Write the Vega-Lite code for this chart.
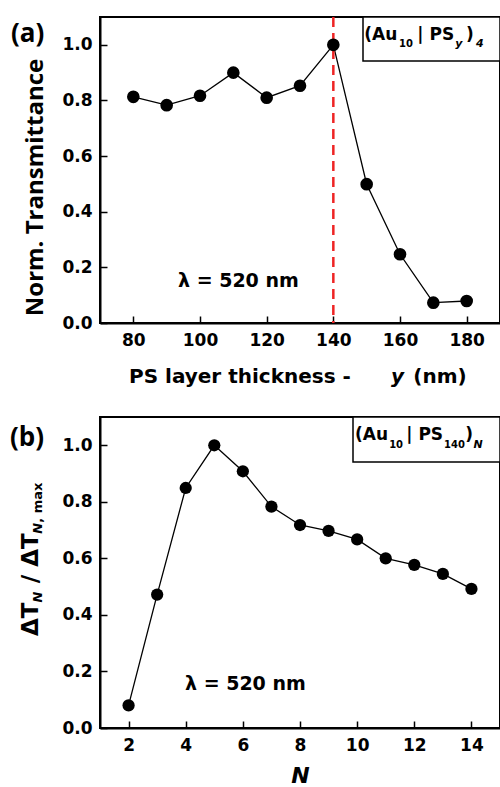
{
  "$schema": "https://vega.github.io/schema/vega-lite/v6.json",
  "padding": {"left": 9, "top": 14, "right": 0, "bottom": 0},
  "bounds": "flush",
  "spacing": 94,
  "config": {
    "view": {"stroke": "black", "strokeWidth": 2},
    "axis": {"grid": false, "domainColor": "black", "domainWidth": 2, "tickColor": "black", "tickWidth": 1.5, "labelFont": "DejaVu Sans", "labelFontWeight": "bold", "labelFontSize": 17, "labelColor": "black", "titleColor": "black", "labelOverlap": false, "labelFlush": false},
    "text": {"font": "DejaVu Sans", "fontWeight": "bold", "color": "black"}
  },
  "datasets": {
    "a": [
      {"thickness": 80, "T": 0.813}, {"thickness": 90, "T": 0.783}, {"thickness": 100, "T": 0.817},
      {"thickness": 110, "T": 0.90}, {"thickness": 120, "T": 0.81}, {"thickness": 130, "T": 0.853},
      {"thickness": 140, "T": 1.0}, {"thickness": 150, "T": 0.499}, {"thickness": 160, "T": 0.247},
      {"thickness": 170, "T": 0.073}, {"thickness": 180, "T": 0.079}
    ],
    "b": [
      {"N": 2, "dT": 0.08}, {"N": 3, "dT": 0.472}, {"N": 4, "dT": 0.849}, {"N": 5, "dT": 1.0},
      {"N": 6, "dT": 0.908}, {"N": 7, "dT": 0.783}, {"N": 8, "dT": 0.718}, {"N": 9, "dT": 0.697},
      {"N": 10, "dT": 0.667}, {"N": 11, "dT": 0.60}, {"N": 12, "dT": 0.577}, {"N": 13, "dT": 0.545},
      {"N": 14, "dT": 0.492}
    ]
  },
  "vconcat": [
    {
      "width": 400, "height": 306,
      "layer": [
        {
          "data": {"name": "a"},
          "mark": {"type": "line", "color": "black", "strokeWidth": 1.3},
          "encoding": {
            "x": {"field": "thickness", "type": "quantitative",
              "scale": {"domain": [70, 190], "nice": false, "zero": false},
              "axis": {"title": null, "values": [80, 90, 100, 110, 120, 130, 140, 150, 160, 170, 180],
                "labelExpr": "datum.value % 20 == 0 ? datum.label : ''",
                "tickSize": {"condition": {"test": "datum.value % 20 == 0", "value": -7}, "value": -4},
                "labelPadding": 16}},
            "y": {"field": "T", "type": "quantitative",
              "scale": {"domain": [0, 1.1], "nice": false, "zero": false},
              "axis": {"title": "Norm. Transmittance", "titleFont": "Open Sans", "titleFontWeight": "bold", "titleFontSize": 24, "titlePadding": 14, "titleY": 170,
                "values": [0, 0.1, 0.2, 0.3, 0.4, 0.5, 0.6, 0.7, 0.8, 0.9, 1.0], "format": ".1f",
                "labelExpr": "round(datum.value*10) % 2 == 0 ? datum.label : ''",
                "tickSize": {"condition": {"test": "round(datum.value*10) % 2 == 0", "value": -7}, "value": -4},
                "labelPadding": 15}}
          }
        },
        {
          "data": {"values": [{}]},
          "mark": {"type": "rule", "color": "#ee2424", "strokeDash": [10, 6], "strokeWidth": 2.5},
          "encoding": {"x": {"datum": 140, "type": "quantitative"}}
        },
        {
          "data": {"name": "a"},
          "mark": {"type": "point", "filled": true, "size": 160, "color": "black", "opacity": 1},
          "encoding": {
            "x": {"field": "thickness", "type": "quantitative"},
            "y": {"field": "T", "type": "quantitative"}
          }
        },
        {
          "data": {"values": [{}]},
          "mark": {"type": "rect", "fill": "white", "stroke": "black", "strokeWidth": 1.5},
          "encoding": {
            "x": {"datum": 148.9, "type": "quantitative"}, "x2": {"datum": 190},
            "y": {"datum": 0.942, "type": "quantitative"}, "y2": {"datum": 1.1}
          }
        },
        {"data": {"values": [{}]}, "mark": {"type": "text", "text": "(Au", "fontSize": 17, "align": "left", "baseline": "alphabetic"},
          "encoding": {"x": {"datum": 149.3, "type": "quantitative"}, "y": {"datum": 1.019, "type": "quantitative"}}},
        {"data": {"values": [{}]}, "mark": {"type": "text", "text": "10", "fontSize": 10, "align": "left", "baseline": "alphabetic"},
          "encoding": {"x": {"datum": 159.7, "type": "quantitative"}, "y": {"datum": 0.992, "type": "quantitative"}}},
        {"data": {"values": [{}]}, "mark": {"type": "text", "text": "| PS", "fontSize": 17, "align": "left", "baseline": "alphabetic"},
          "encoding": {"x": {"datum": 165.2, "type": "quantitative"}, "y": {"datum": 1.019, "type": "quantitative"}}},
        {"data": {"values": [{}]}, "mark": {"type": "text", "text": "y", "fontSize": 11, "fontStyle": "italic", "align": "left", "baseline": "alphabetic"},
          "encoding": {"x": {"datum": 176.6, "type": "quantitative"}, "y": {"datum": 0.992, "type": "quantitative"}}},
        {"data": {"values": [{}]}, "mark": {"type": "text", "text": ")", "fontSize": 17, "align": "left", "baseline": "alphabetic"},
          "encoding": {"x": {"datum": 179.8, "type": "quantitative"}, "y": {"datum": 1.019, "type": "quantitative"}}},
        {"data": {"values": [{}]}, "mark": {"type": "text", "text": "4", "fontSize": 11, "fontStyle": "italic", "align": "left", "baseline": "alphabetic"},
          "encoding": {"x": {"datum": 182.8, "type": "quantitative"}, "y": {"datum": 0.992, "type": "quantitative"}}},
        {"data": {"values": [{}]}, "mark": {"type": "text", "text": "λ = 520 nm", "fontSize": 19, "align": "left", "baseline": "alphabetic"},
          "encoding": {"x": {"datum": 93.4, "type": "quantitative"}, "y": {"datum": 0.129, "type": "quantitative"}}},
        {"data": {"values": [{}]}, "mark": {"type": "text", "text": "PS layer thickness -", "fontSize": 20, "align": "left", "baseline": "alphabetic"},
          "encoding": {"x": {"datum": 78.7, "type": "quantitative"}, "y": {"datum": -0.216, "type": "quantitative"}}},
        {"data": {"values": [{}]}, "mark": {"type": "text", "text": "y", "fontSize": 20, "fontStyle": "italic", "align": "left", "baseline": "alphabetic"},
          "encoding": {"x": {"datum": 157.3, "type": "quantitative"}, "y": {"datum": -0.216, "type": "quantitative"}}},
        {"data": {"values": [{}]}, "mark": {"type": "text", "text": "(nm)", "fontSize": 20, "align": "left", "baseline": "alphabetic"},
          "encoding": {"x": {"datum": 164.0, "type": "quantitative"}, "y": {"datum": -0.216, "type": "quantitative"}}},
        {"data": {"values": [{}]}, "mark": {"type": "text", "text": "(a)", "font": "Open Sans", "fontSize": 26, "align": "left", "baseline": "middle", "dx": -89},
          "encoding": {"x": {"datum": 70, "type": "quantitative"}, "y": {"datum": 1.04, "type": "quantitative"}}}
      ]
    },
    {
      "width": 400, "height": 311,
      "layer": [
        {
          "data": {"name": "b"},
          "mark": {"type": "line", "color": "black", "strokeWidth": 1.3},
          "encoding": {
            "x": {"field": "N", "type": "quantitative",
              "scale": {"domain": [1, 15], "nice": false, "zero": false},
              "axis": {"title": "N", "titleFont": "DejaVu Sans", "titleFontWeight": "bold", "titleFontStyle": "italic", "titleFontSize": 22, "titlePadding": 12,
                "values": [2, 3, 4, 5, 6, 7, 8, 9, 10, 11, 12, 13, 14],
                "labelExpr": "datum.value % 2 == 0 ? datum.label : ''",
                "tickSize": {"condition": {"test": "datum.value % 2 == 0", "value": -7}, "value": -4},
                "labelPadding": 16}},
            "y": {"field": "dT", "type": "quantitative",
              "scale": {"domain": [0, 1.1], "nice": false, "zero": false},
              "axis": {"title": null,
                "values": [0, 0.1, 0.2, 0.3, 0.4, 0.5, 0.6, 0.7, 0.8, 0.9, 1.0], "format": ".1f",
                "labelExpr": "round(datum.value*10) % 2 == 0 ? datum.label : ''",
                "tickSize": {"condition": {"test": "round(datum.value*10) % 2 == 0", "value": -7}, "value": -4},
                "labelPadding": 15}}
          }
        },
        {
          "data": {"name": "b"},
          "mark": {"type": "point", "filled": true, "size": 150, "color": "black", "opacity": 1},
          "encoding": {
            "x": {"field": "N", "type": "quantitative"},
            "y": {"field": "dT", "type": "quantitative"}
          }
        },
        {
          "data": {"values": [{}]},
          "mark": {"type": "rect", "fill": "white", "stroke": "black", "strokeWidth": 1.5},
          "encoding": {
            "x": {"datum": 9.855, "type": "quantitative"}, "x2": {"datum": 15},
            "y": {"datum": 0.941, "type": "quantitative"}, "y2": {"datum": 1.1}
          }
        },
        {"data": {"values": [{}]}, "mark": {"type": "text", "text": "(Au", "fontSize": 17, "align": "left", "baseline": "alphabetic"},
          "encoding": {"x": {"datum": 9.925, "type": "quantitative"}, "y": {"datum": 1.02, "type": "quantitative"}}},
        {"data": {"values": [{}]}, "mark": {"type": "text", "text": "10", "fontSize": 10, "align": "left", "baseline": "alphabetic"},
          "encoding": {"x": {"datum": 11.12, "type": "quantitative"}, "y": {"datum": 0.992, "type": "quantitative"}}},
        {"data": {"values": [{}]}, "mark": {"type": "text", "text": "| PS", "fontSize": 17, "align": "left", "baseline": "alphabetic"},
          "encoding": {"x": {"datum": 11.72, "type": "quantitative"}, "y": {"datum": 1.02, "type": "quantitative"}}},
        {"data": {"values": [{}]}, "mark": {"type": "text", "text": "140", "fontSize": 10, "align": "left", "baseline": "alphabetic"},
          "encoding": {"x": {"datum": 13.04, "type": "quantitative"}, "y": {"datum": 0.992, "type": "quantitative"}}},
        {"data": {"values": [{}]}, "mark": {"type": "text", "text": ")", "fontSize": 17, "align": "left", "baseline": "alphabetic"},
          "encoding": {"x": {"datum": 13.78, "type": "quantitative"}, "y": {"datum": 1.02, "type": "quantitative"}}},
        {"data": {"values": [{}]}, "mark": {"type": "text", "text": "N", "fontSize": 11, "fontStyle": "italic", "align": "left", "baseline": "alphabetic"},
          "encoding": {"x": {"datum": 14.07, "type": "quantitative"}, "y": {"datum": 0.992, "type": "quantitative"}}},
        {"data": {"values": [{}]}, "mark": {"type": "text", "text": "λ = 520 nm", "fontSize": 19, "align": "left", "baseline": "alphabetic"},
          "encoding": {"x": {"datum": 3.975, "type": "quantitative"}, "y": {"datum": 0.134, "type": "quantitative"}}},
        {"data": {"values": [{}]}, "mark": {"type": "text", "text": "ΔT", "fontSize": 23, "angle": 270, "align": "left", "baseline": "alphabetic", "dy": -62},
          "encoding": {"x": {"datum": 1, "type": "quantitative"}, "y": {"datum": 0.325, "type": "quantitative"}}},
        {"data": {"values": [{}]}, "mark": {"type": "text", "text": "N", "fontSize": 13, "fontStyle": "italic", "angle": 270, "align": "left", "baseline": "alphabetic", "dy": -58},
          "encoding": {"x": {"datum": 1, "type": "quantitative"}, "y": {"datum": 0.444, "type": "quantitative"}}},
        {"data": {"values": [{}]}, "mark": {"type": "text", "text": "/ ΔT", "fontSize": 23, "angle": 270, "align": "left", "baseline": "alphabetic", "dy": -62},
          "encoding": {"x": {"datum": 1, "type": "quantitative"}, "y": {"datum": 0.512, "type": "quantitative"}}},
        {"data": {"values": [{}]}, "mark": {"type": "text", "text": "N", "fontSize": 13, "fontStyle": "italic", "angle": 270, "align": "left", "baseline": "alphabetic", "dy": -58},
          "encoding": {"x": {"datum": 1, "type": "quantitative"}, "y": {"datum": 0.687, "type": "quantitative"}}},
        {"data": {"values": [{}]}, "mark": {"type": "text", "text": ", max", "fontSize": 13, "angle": 270, "align": "left", "baseline": "alphabetic", "dy": -58},
          "encoding": {"x": {"datum": 1, "type": "quantitative"}, "y": {"datum": 0.726, "type": "quantitative"}}},
        {"data": {"values": [{}]}, "mark": {"type": "text", "text": "(b)", "font": "Open Sans", "fontSize": 26, "align": "left", "baseline": "middle", "dx": -90},
          "encoding": {"x": {"datum": 1, "type": "quantitative"}, "y": {"datum": 1.025, "type": "quantitative"}}}
      ]
    }
  ]
}
